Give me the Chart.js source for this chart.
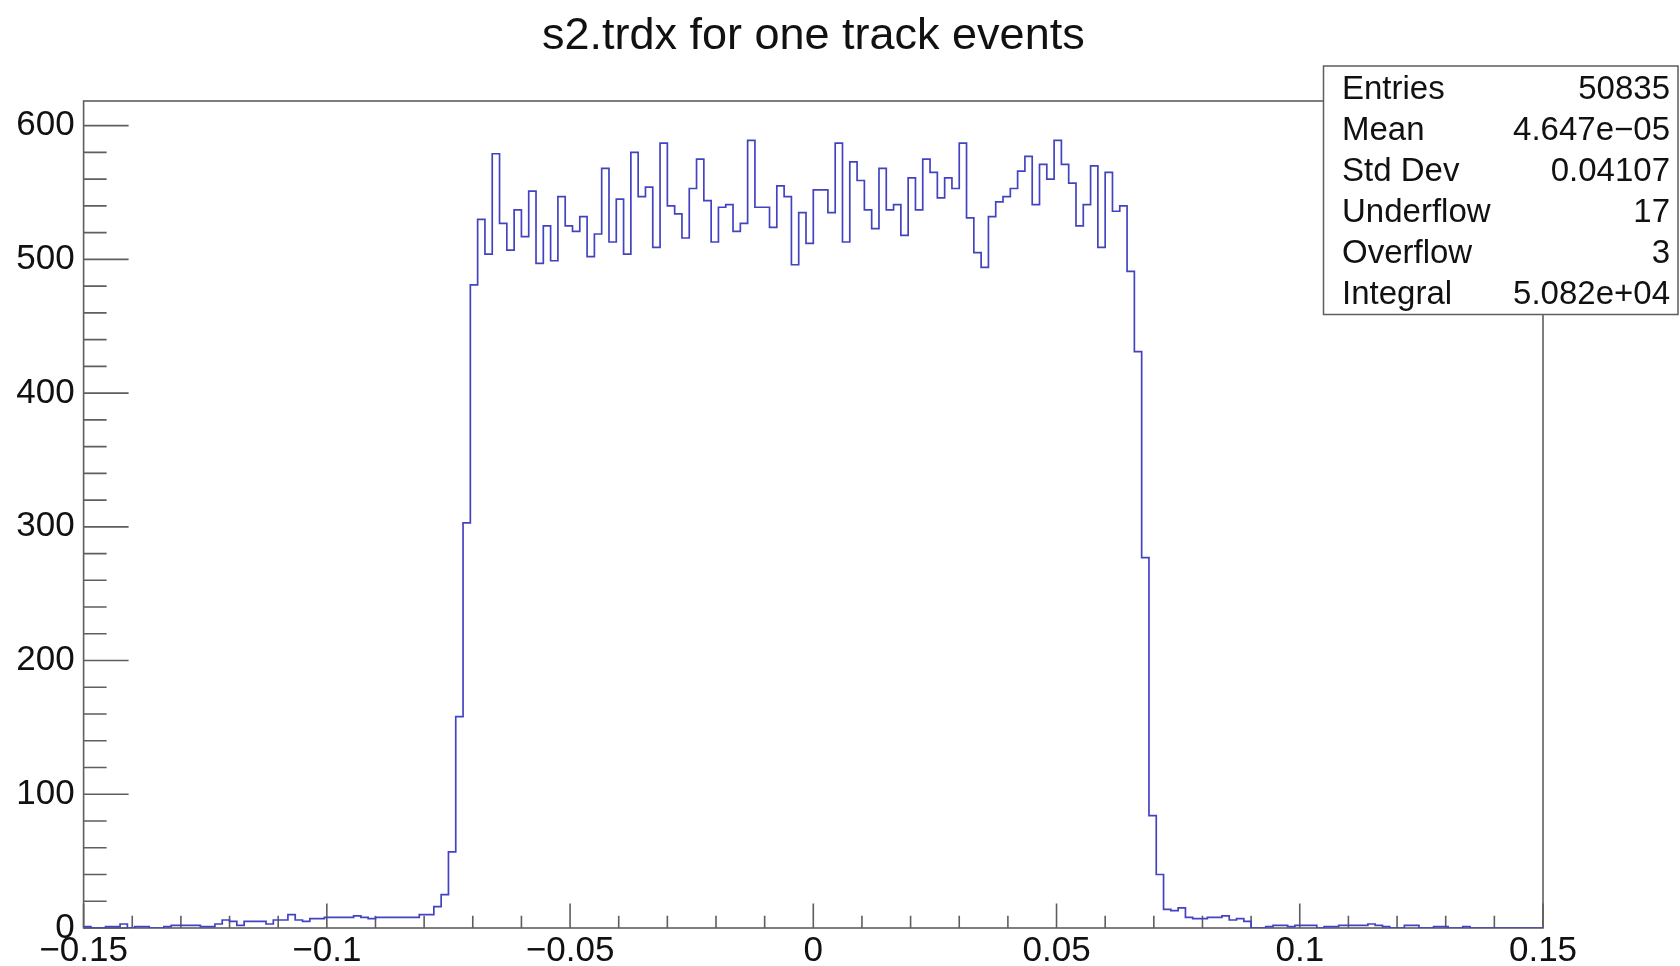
<!DOCTYPE html>
<html>
<head>
<meta charset="utf-8">
<script src="https://cdn.jsdelivr.net/npm/chart.js@4/dist/chart.umd.min.js"></script>
<style>
  html, body { margin: 0; padding: 0; background: #ffffff; }
  #wrap { width: 1680px; height: 966px; position: relative; }
</style>
</head>
<body>
<div id="wrap"><canvas id="c" width="1680" height="966"></canvas></div>
<script>
// s2.trdx histogram, 200 equal bins between xMin and xMax
const histTitle = 's2.trdx for one track events';
const xMin = -0.15;
const xMax = 0.15;

const binCounts = [
  1, 1, 0, 0, 1, 1, 3, 0, 1, 1,
  0, 0, 1, 2, 2, 2, 2, 1, 1, 3,
  6, 5, 2, 5, 5, 5, 3, 6, 6, 10,
  6, 5, 7, 7, 8, 8, 8, 8, 9, 8,
  7, 8, 8, 8, 8, 8, 8, 10, 10, 16,
  25, 57, 158, 303, 481, 530, 504, 579, 527, 507,
  537, 517, 551, 497, 525, 499, 547, 525, 521, 532,
  502, 519, 568, 513, 545, 504, 580, 547, 554, 509,
  587, 540, 534, 516, 553, 575, 544, 513, 539, 541,
  521, 527, 589, 539, 539, 524, 555, 547, 496, 535,
  512, 552, 552, 535, 587, 513, 573, 559, 537, 523,
  568, 537, 541, 518, 561, 537, 575, 565, 546, 561,
  553, 587, 531, 505, 494, 532, 543, 547, 553, 566,
  577, 541, 571, 560, 589, 571, 557, 525, 541, 570,
  509, 565, 536, 540, 491, 431, 277, 84, 40, 14,
  13, 15, 8, 7, 7, 8, 8, 9, 6, 7,
  5, 0, 0, 1, 2, 2, 1, 2, 2, 2,
  0, 1, 1, 2, 2, 2, 2, 3, 2, 1,
  0, 0, 2, 2, 0, 0, 1, 1, 0, 0,
  1, 0, 0, 0, 0, 0, 0, 0, 0, 0
];

const xTickValues = [-0.15, -0.1, -0.05, 0, 0.05, 0.1, 0.15];
const xTickLabels = ['\u22120.15', '\u22120.1', '\u22120.05', '0', '0.05', '0.1', '0.15'];
const yTickValues = [0, 100, 200, 300, 400, 500, 600];
const yTickLabels = ['0', '100', '200', '300', '400', '500', '600'];

const statNames = ['Entries', 'Mean', 'Std Dev', 'Underflow', 'Overflow', 'Integral'];
const statValues = ['50835', '4.647e\u221205', '0.04107', '17', '3', '5.082e+04'];

// ---- derived chart inputs ----
const binWidth = (xMax - xMin) / binCounts.length;
const stepPoints = binCounts.map((c, i) => ({ x: xMin + i * binWidth, y: c }));
stepPoints.push({ x: xMax, y: binCounts[binCounts.length - 1] });
const yMax = 1.05 * Math.max(...binCounts);

const FONT = '"Liberation Sans", Arial, Helvetica, sans-serif';
const frameColor = '#5e5e5e';
const lineColor = '#4343c2';

Chart.defaults.font.family = FONT;
Chart.defaults.color = '#111111';

// frame, inward ticks, statistics box and title
const rootStyle = {
  id: 'rootStyle',
  beforeDatasetsDraw(chart) {
    const { ctx, chartArea: a, scales: { x, y } } = chart;
    ctx.save();
    ctx.strokeStyle = frameColor;
    ctx.lineWidth = 1.6;
    ctx.strokeRect(a.left, a.top, a.right - a.left, a.bottom - a.top);
    ctx.beginPath();
    for (let k = -15; k <= 15; k++) {
      const px = x.getPixelForValue(k / 100);
      const len = (k % 5 === 0) ? 24.5 : 12.3;
      ctx.moveTo(px, a.bottom);
      ctx.lineTo(px, a.bottom - len);
    }
    for (let k = 0; k * 20 <= y.max; k++) {
      const py = y.getPixelForValue(k * 20);
      const len = (k % 5 === 0) ? 45 : 23;
      ctx.moveTo(a.left, py);
      ctx.lineTo(a.left + len, py);
    }
    ctx.stroke();
    ctx.restore();
  },
  afterDraw(chart) {
    const { ctx, chartArea: a } = chart;
    ctx.save();
    // title
    ctx.fillStyle = '#111111';
    ctx.font = '45px ' + FONT;
    ctx.textAlign = 'center';
    ctx.textBaseline = 'alphabetic';
    ctx.fillText(histTitle, (a.left + a.right) / 2, 49);

    // statistics box
    const bx = 1323.5, by = 66, bw = 1678 - 1323.5, bh = 314.5 - 66;
    ctx.fillStyle = '#ffffff';
    ctx.fillRect(bx, by, bw, bh);
    ctx.strokeStyle = frameColor;
    ctx.lineWidth = 1.5;
    ctx.strokeRect(bx, by, bw, bh);
    ctx.fillStyle = '#111111';
    ctx.font = '33px ' + FONT;
    ctx.textBaseline = 'middle';
    statNames.forEach((name, i) => {
      const ry = by + 23.5 + i * 41;
      ctx.textAlign = 'left';
      ctx.fillText(name, 1342, ry);
      ctx.textAlign = 'right';
      ctx.fillText(statValues[i], 1670, ry);
    });
    ctx.restore();
  }
};

new Chart(document.getElementById('c'), {
  type: 'line',
  data: {
    datasets: [{
      data: stepPoints,
      stepped: 'after',
      borderColor: lineColor,
      borderWidth: 1.7,
      pointRadius: 0,
      fill: false,
      tension: 0
    }]
  },
  options: {
    responsive: false,
    animation: false,
    devicePixelRatio: 1,
    parsing: false,
    layout: { padding: { left: 0, right: 137, top: 101, bottom: 0 } },
    plugins: {
      legend: { display: false },
      title: { display: false },
      tooltip: { enabled: false }
    },
    scales: {
      x: {
        type: 'linear',
        min: xMin,
        max: xMax,
        grid: { display: false, drawTicks: false },
        border: { display: false },
        afterBuildTicks: (s) => { s.ticks = xTickValues.map(v => ({ value: v })); },
        afterFit: (s) => { s.height = 38; },
        ticks: {
          autoSkip: false,
          maxRotation: 0,
          padding: 2,
          font: { size: 35 },
          color: '#111111',
          callback: (v, i) => xTickLabels[i]
        }
      },
      y: {
        type: 'linear',
        min: 0,
        max: yMax,
        grid: { display: false, drawTicks: false },
        border: { display: false },
        afterBuildTicks: (s) => { s.ticks = yTickValues.map(v => ({ value: v })); },
        afterFit: (s) => { s.width = 83.6; },
        ticks: {
          autoSkip: false,
          padding: 9,
          font: { size: 35 },
          color: '#111111',
          callback: (v, i) => yTickLabels[i]
        }
      }
    }
  },
  plugins: [rootStyle]
});
</script>
</body>
</html>
